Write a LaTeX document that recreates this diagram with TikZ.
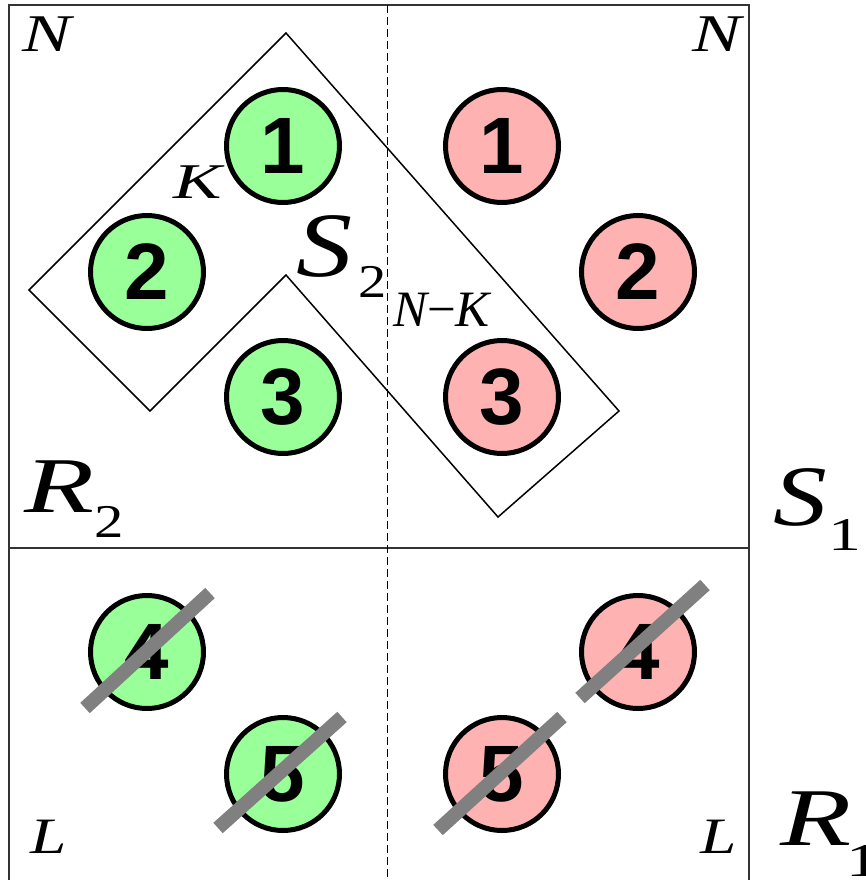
\documentclass[tikz,border=0pt]{standalone}
\usepackage{fontspec}
\usepackage{graphicx}
\setmainfont{Liberation Serif}
\newfontfamily\numfont{Liberation Sans}
\newcommand{\stretchx}[2]{\scalebox{#1}[1]{#2}}
\begin{document}
\begin{tikzpicture}[x=1pt,y=-1pt,
  ball/.style={circle,draw=black,line width=5pt,minimum size=113pt,inner sep=0pt,
    font=\numfont\bfseries\fontsize{80}{80}\selectfont},
  gball/.style={ball,fill=green!40},
  rball/.style={ball,fill=red!30},
  strike/.style={line width=14pt,draw=gray},
  lbl/.style={inner sep=0pt,anchor=base west},
  frame/.style={line width=1.5pt,draw=black!80},
  region/.style={line width=1.5pt,draw=black,line join=miter}
]
\useasboundingbox (0,0) rectangle (865,880);
% frame
\draw[frame] (9,880) -- (9,5) -- (749,5) -- (749,880);
\draw[frame] (9,548) -- (749,548);
\draw[line width=1pt,dash pattern=on 8pt off 4pt] (387,5) -- (387,880);
% region polygon
\coordinate (pt) at (286,33);
\coordinate (pl) at (29,290);
\coordinate (pbl) at (150,411);
\coordinate (pi) at (286,275);
\coordinate (pb) at (498,517);
\coordinate (pr) at (619,411);
\draw[region] (pt) -- (pl) -- (pbl) -- (pi) -- (pb) -- (pr) -- cycle;
% balls
\node[gball] (g1) at (283,146) {1};
\node[gball] (g2) at (147,272) {2};
\node[gball] (g3) at (283,397) {3};
\node[rball] (r1) at (502,146) {1};
\node[rball] (r2) at (638,272) {2};
\node[rball] (r3) at (502,397) {3};
\node[gball] (g4) at (147,652) {4};
\node[gball] (g5) at (283,774) {5};
\node[rball] (r4) at (638,652) {4};
\node[rball] (r5) at (502,774) {5};
% strikes
\draw[strike] ([shift={(-62,56)}]g4.center) -- ([shift={(63,-59)}]g4.center);
\draw[strike] ([shift={(-65,54)}]g5.center) -- ([shift={(59,-57)}]g5.center);
\draw[strike] ([shift={(-58,46)}]r4.center) -- ([shift={(67,-67)}]r4.center);
\draw[strike] ([shift={(-64,56)}]r5.center) -- ([shift={(60,-57)}]r5.center);
% labels
\node[lbl,font=\itshape\fontsize{53}{53}\selectfont] (n1) at (22,52) {\stretchx{1.38}{N}};
\node[lbl,font=\itshape\fontsize{53}{53}\selectfont] (n2) at (692,52) {\stretchx{1.38}{N}};
\node[lbl,font=\itshape\fontsize{50}{50}\selectfont] (k) at (173,198) {\stretchx{1.45}{K}};
\node[lbl,font=\itshape\fontsize{92}{92}\selectfont] (s2) at (296,276) {\stretchx{1.22}{S}};
\node[lbl,font=\fontsize{47}{47}\selectfont] (s2sub) at (358,297) {\stretchx{1.2}{2}};
\node[lbl,font=\itshape\fontsize{51}{51}\selectfont] (nk) at (393,326) {N{\upshape −}K};
\node[lbl,font=\itshape\fontsize{79}{79}\selectfont] (r2) at (24,512) {\stretchx{1.45}{R}};
\node[lbl,font=\fontsize{47}{47}\selectfont] (r2sub) at (94,537) {\stretchx{1.25}{2}};
\node[lbl,font=\itshape\fontsize{86}{86}\selectfont] (s1) at (773,525) {\stretchx{1.25}{S}};
\node[lbl,font=\fontsize{47}{47}\selectfont] (s1sub) at (828,550) {\stretchx{1.4}{1}};
\node[lbl,font=\itshape\fontsize{82}{82}\selectfont] (r1l) at (780,845) {\stretchx{1.42}{R}};
\node[lbl,font=\fontsize{47}{47}\selectfont] (r1sub) at (846,876) {\stretchx{1.4}{1}};
\node[lbl,font=\itshape\fontsize{51}{51}\selectfont] (l1) at (30,853) {\stretchx{1.28}{L}};
\node[lbl,font=\itshape\fontsize{51}{51}\selectfont] (l2) at (700,853) {\stretchx{1.28}{L}};
\end{tikzpicture}
\end{document}
